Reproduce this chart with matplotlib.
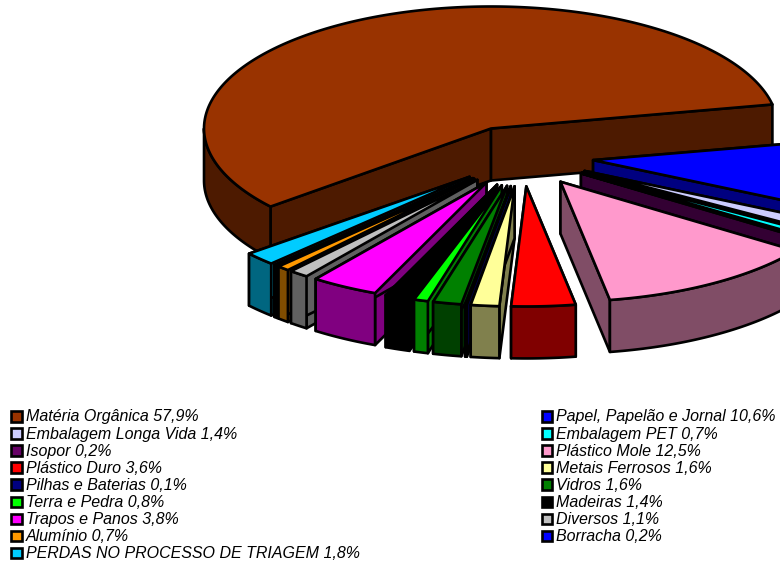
import numpy as np
import matplotlib
matplotlib.use('Agg')
import matplotlib.pyplot as plt
from matplotlib.patches import Polygon, Rectangle

# Data
names = ['Matéria Orgânica', 'Papel, Papelão e Jornal', 'Embalagem Longa Vida', 'Embalagem PET',
         'Isopor', 'Plástico Mole', 'Plástico Duro', 'Metais Ferrosos', 'Pilhas e Baterias',
         'Vidros', 'Terra e Pedra', 'Madeiras', 'Trapos e Panos', 'Diversos', 'Alumínio',
         'Borracha', 'PERDAS NO PROCESSO DE TRIAGEM']
values = [57.9, 10.6, 1.4, 0.7, 0.2, 12.5, 3.6, 1.6, 0.1, 1.6, 0.8, 1.4, 3.8, 1.1, 0.7, 0.2, 1.8]
top_colors = ['#993300', '#0000FF', '#CCCCFF', '#00FFFF', '#660066', '#FF99CC', '#FF0000', '#FFFF99',
              '#000080', '#008000', '#00FF00', '#000000', '#FF00FF', '#C0C0C0', '#FF9900', '#0000FF',
              '#00CCFF']
side_colors = ['#4D1A00', '#000080', '#666680', '#008080', '#330033', '#804D66', '#800000', '#80804D',
               '#000040', '#004000', '#008000', '#000000', '#800080', '#606060', '#804D00', '#000080',
               '#006680']

# pie geometry in pixels
cx, cy = 522, 156
rx = 287
ry_back = 122   # the big slice sits at the back
ry_front = 120  # the others look a bit flatter in the original
depth = 52
explode = 0.25
start = 219.8
lw = 1.9

fig = plt.figure(figsize=(7.8, 5.62), dpi=100)
ax = fig.add_axes([0, 0, 1, 1])
ax.set_xlim(0, 780)
ax.set_ylim(562, 0)
ax.axis('off')


def arc(a0, a1, ox, oy, ry):
    t = np.radians(np.linspace(a0, a1, max(int(abs(a1 - a0) * 2), 2)))
    return np.column_stack([ox + rx * np.cos(t), oy - ry * np.sin(t)])


def add_poly(pts, color, z):
    ax.add_patch(Polygon(pts, closed=True, facecolor=color, edgecolor='black',
                         linewidth=lw, joinstyle='round', zorder=z))


# work out the slices first, they get painted back to front
slices = []
a = start
for i, v in enumerate(values):
    sweep = v * 3.6
    slices.append((i, a, a - sweep))
    a -= sweep
slices.sort(key=lambda s: -np.sin(np.radians((s[1] + s[2]) / 2)))

z = 1
for i, a0, a1 in slices:
    mid = np.radians((a0 + a1) / 2)
    ox = cx + explode * rx * np.cos(mid)
    oy = cy - explode * ry_back * np.sin(mid)
    apex = np.array([ox, oy])
    down = np.array([0, depth])
    ry = ry_back if i == 0 else ry_front
    rim = arc(a0, a1, ox, oy, ry)
    # radial walls
    for p in (rim[0], rim[-1]):
        add_poly([apex, p, p + down, apex + down], side_colors[i], z)
        z += 1
    # outer wall, only the part that faces the viewer
    for lo, hi in ((-180, 0), (180, 360)):
        b0 = min(a0, hi)
        b1 = max(a1, lo)
        if b0 > b1:
            part = arc(b0, b1, ox, oy, ry)
            add_poly(np.vstack([part, part[::-1] + down]), side_colors[i], z)
            z += 1
    add_poly(np.vstack([apex, rim]), top_colors[i], z)
    z += 1

# legend
row_y = 416
row_h = 17.1
for i, (n, v) in enumerate(zip(names, values)):
    col = i % 2
    y = row_y + row_h * (i // 2)
    sx = 11 if col == 0 else 541.5
    ax.add_patch(Rectangle((sx, y - 5), 10.5, 10.5, facecolor=top_colors[i], edgecolor='black',
                           linewidth=1.9, zorder=100))
    label = '%s %s%%' % (n, ('%.1f' % v).replace('.', ','))
    ax.text(sx + 14.5, y + 1, label, family='Liberation Sans', style='italic', fontsize=11.5,
            color='black', va='center', ha='left', zorder=100)

fig.savefig('out.png', dpi=100)
